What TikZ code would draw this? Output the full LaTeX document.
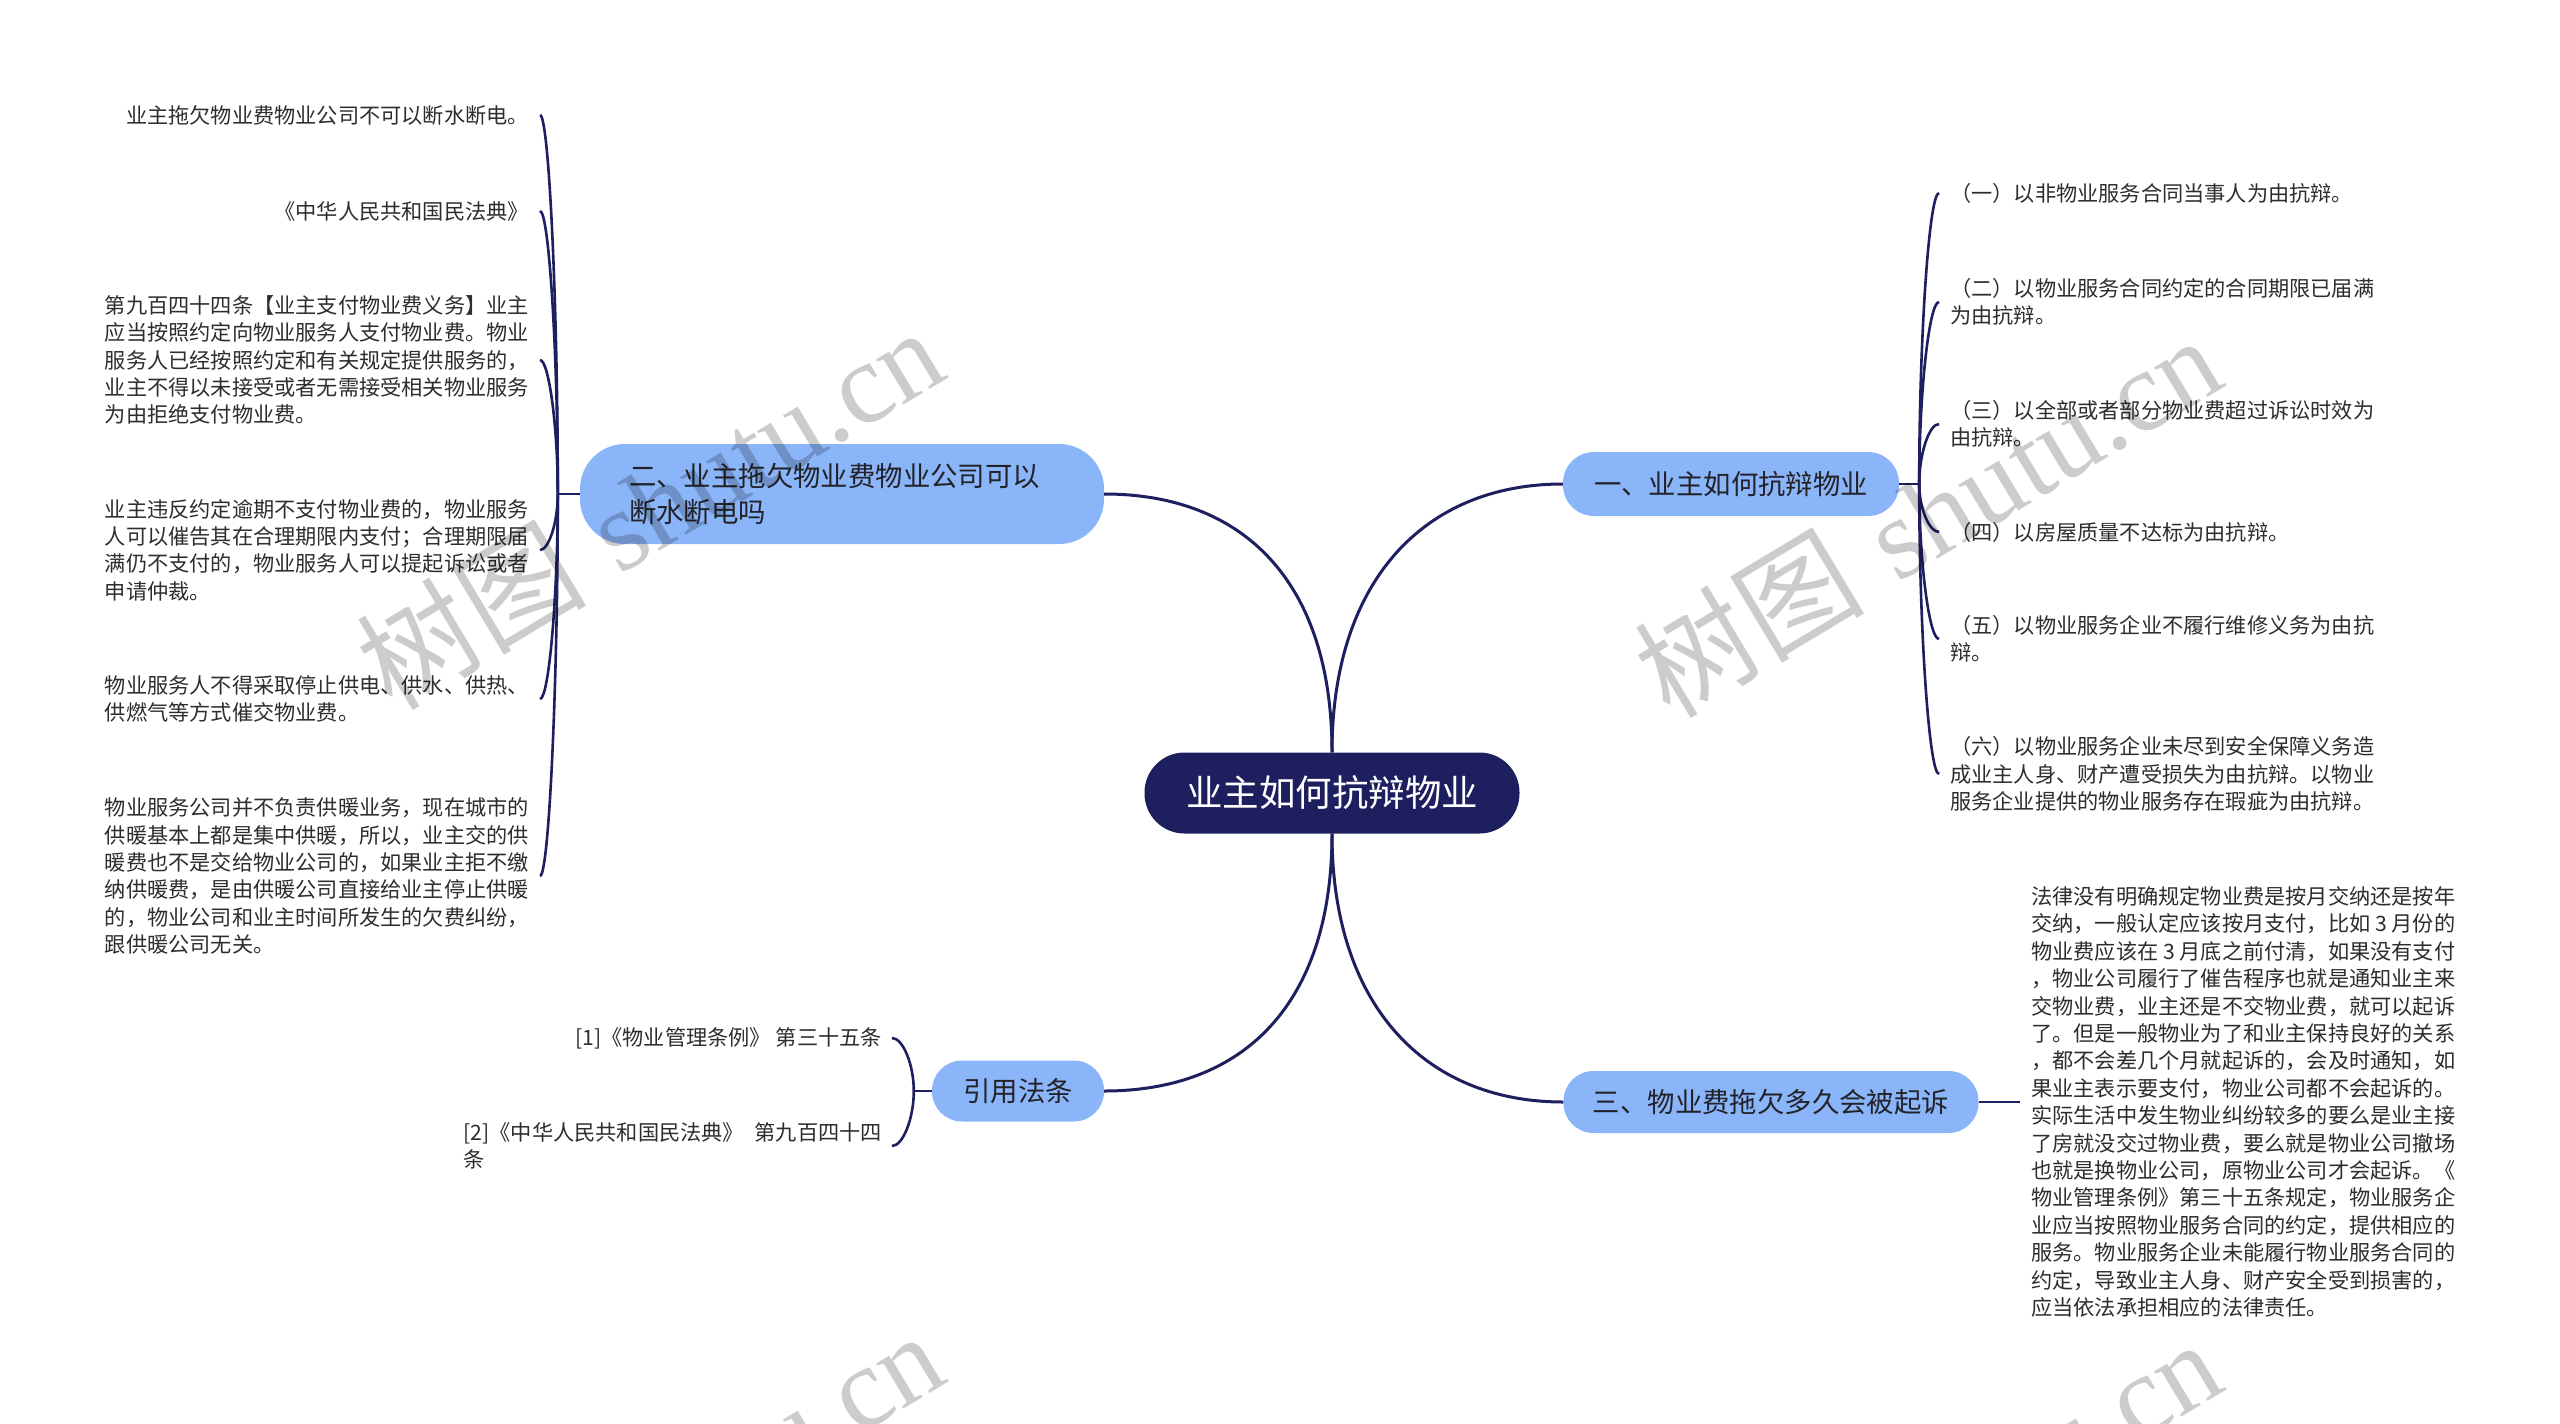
\documentclass[tikz,border=0pt]{standalone}
\usepackage{fontspec}
\setmainfont{Noto Sans CJK SC}
\newfontfamily\wmlat{Liberation Serif}
\usetikzlibrary{calc}
\definecolor{navy}{RGB}{30,31,94}
\definecolor{bluefill}{RGB}{138,181,248}
\definecolor{textdark}{RGB}{34,34,40}
\definecolor{leafgray}{RGB}{45,45,45}
\newcommand\bcurve[2]{\draw[brline] (#1) .. controls ($(#1)!0.5!(#1|-#2)$) and ($(#1|-#2)!0.5!(#2)$) .. (#2);}
\begin{document}
\begin{tikzpicture}[x=1pt,y=-1pt,
  mainline/.style={draw=navy, line width=3pt},
  brline/.style={draw=navy, line width=2.6pt},
  mainnode/.style={fill=navy, text=white, rounded corners=40pt, minimum width=375pt, minimum height=81pt, inner sep=0pt, font=\fontsize{36.5}{40}\selectfont},
  branch/.style={fill=bluefill, text=textdark, inner sep=0pt, align=center, font=\fontsize{27.4}{36}\selectfont},
  leaf/.style={text=leafgray, align=left, inner xsep=11pt, inner ysep=0pt, font=\fontsize{21.2}{27.4}\selectfont},
  wm/.style={text=black, text opacity=0.2, inner sep=0pt, font=\fontsize{115}{115}\selectfont}]
\path[use as bounding box, fill=white] (0,0) rectangle (2560,1424);

% main and branch nodes
\node[mainnode] (c) at (1332,793) {业主如何抗辩物业};
\node[branch, minimum width=336pt, minimum height=64pt, rounded corners=31pt] (b1) at (1731,484) {一、业主如何抗辩物业};
\node[branch, minimum width=524pt, minimum height=100pt, rounded corners=45pt, text width=426pt, align=left] (b2) at (842,494) {二、业主拖欠物业费物业公司可以\\断水断电吗};
\node[branch, minimum width=415pt, minimum height=62pt, rounded corners=30pt] (b3) at (1771,1102) {三、物业费拖欠多久会被起诉};
\node[branch, minimum width=172pt, minimum height=61pt, rounded corners=30pt] (b4) at (1018,1091) {引用法条};

% main connectors
\draw[mainline] (c.north) .. controls +(0,-170) and +(-140,0) .. (b1.west);
\draw[mainline] (c.north) .. controls +(0,-170) and +(140,0) .. (b2.east);
\draw[mainline] (c.south) .. controls +(0,170) and +(-140,0) .. (b3.west);
\draw[mainline] (c.south) .. controls +(0,170) and +(140,0) .. (b4.east);

% branch 1 children
\node[leaf, anchor=west] (r1) at (1939,193) {（一）以非物业服务合同当事人为由抗辩。};
\node[leaf, anchor=west] (r2) at (1939,302) {（二）以物业服务合同约定的合同期限已届满\\为由抗辩。};
\node[leaf, anchor=west] (r3) at (1939,424) {（三）以全部或者部分物业费超过诉讼时效为\\由抗辩。};
\node[leaf, anchor=west] (r4) at (1939,532) {（四）以房屋质量不达标为由抗辩。};
\node[leaf, anchor=west] (r5) at (1939,639) {（五）以物业服务企业不履行维修义务为由抗\\辩。};
\node[leaf, anchor=west] (r6) at (1939,774) {（六）以物业服务企业未尽到安全保障义务造\\成业主人身、财产遭受损失为由抗辩。以物业\\服务企业提供的物业服务存在瑕疵为由抗辩。};
\coordinate (j1) at ($(b1.east)+(20,0)$);
\draw[brline] (b1.east) -- (j1);
\foreach \n in {r1,r2,r3,r4,r5,r6} {\bcurve{j1}{\n.west}}

% branch 2 children
\node[leaf, anchor=east] (l1) at (540,115) {业主拖欠物业费物业公司不可以断水断电。};
\node[leaf, anchor=east] (l2) at (540,211) {《中华人民共和国民法典》};
\node[leaf, anchor=east] (l3) at (540,360) {第九百四十四条【业主支付物业费义务】业主\\应当按照约定向物业服务人支付物业费。物业\\服务人已经按照约定和有关规定提供服务的，\\业主不得以未接受或者无需接受相关物业服务\\为由拒绝支付物业费。};
\node[leaf, anchor=east] (l4) at (540,550) {业主违反约定逾期不支付物业费的，物业服务\\人可以催告其在合理期限内支付；合理期限届\\满仍不支付的，物业服务人可以提起诉讼或者\\申请仲裁。};
\node[leaf, anchor=east] (l5) at (540,699) {物业服务人不得采取停止供电、供水、供热、\\供燃气等方式催交物业费。};
\node[leaf, anchor=east] (l6) at (540,876) {物业服务公司并不负责供暖业务，现在城市的\\供暖基本上都是集中供暖，所以，业主交的供\\暖费也不是交给物业公司的，如果业主拒不缴\\纳供暖费，是由供暖公司直接给业主停止供暖\\的，物业公司和业主时间所发生的欠费纠纷，\\跟供暖公司无关。};
\coordinate (j2) at ($(b2.west)+(-22,0)$);
\draw[brline] (b2.west) -- (j2);
\foreach \n in {l1,l2,l3,l4,l5,l6} {\bcurve{j2}{\n.east}}

% branch 3 child
\node[leaf, anchor=west] (t1) at (2020,1102) {法律没有明确规定物业费是按月交纳还是按年\\交纳，一般认定应该按月支付，比如 3 月份的\\物业费应该在 3 月底之前付清，如果没有支付\\，物业公司履行了催告程序也就是通知业主来\\交物业费，业主还是不交物业费，就可以起诉\\了。但是一般物业为了和业主保持良好的关系\\，都不会差几个月就起诉的，会及时通知，如\\果业主表示要支付，物业公司都不会起诉的。\\实际生活中发生物业纠纷较多的要么是业主接\\了房就没交过物业费，要么就是物业公司撤场\\也就是换物业公司，原物业公司才会起诉。《\\物业管理条例》第三十五条规定，物业服务企\\业应当按照物业服务合同的约定，提供相应的\\服务。物业服务企业未能履行物业服务合同的\\约定，导致业主人身、财产安全受到损害的，\\应当依法承担相应的法律责任。};
\draw[brline] (b3.east) -- (t1.west);

% branch 4 children
\node[leaf, anchor=east, inner xsep=10pt] (q1) at (892,1038) {[1]《物业管理条例》 第三十五条};
\node[leaf, anchor=east, inner xsep=10pt] (q2) at (892,1146) {[2]《中华人民共和国民法典》\hspace{0.5em}第九百四十四\\条};
\coordinate (j4) at ($(b4.west)+(-18,0)$);
\draw[brline] (b4.west) -- (j4);
\foreach \n in {q1,q2} {\bcurve{j4}{\n.east}}

% watermarks
\begin{scope}
\clip (0,0) rectangle (2560,1424);
\node[wm, rotate=31] (w1) at (649,507) {树图\hspace{0.3em}{\wmlat shutu.cn}};
\node[wm, rotate=31] (w2) at (1927,515) {树图\hspace{0.3em}{\wmlat shutu.cn}};
\node[wm, rotate=31] (w3) at (649,1511) {树图\hspace{0.3em}{\wmlat shutu.cn}};
\node[wm, rotate=31] (w4) at (1927,1519) {树图\hspace{0.3em}{\wmlat shutu.cn}};
\end{scope}
\end{tikzpicture}
\end{document}
